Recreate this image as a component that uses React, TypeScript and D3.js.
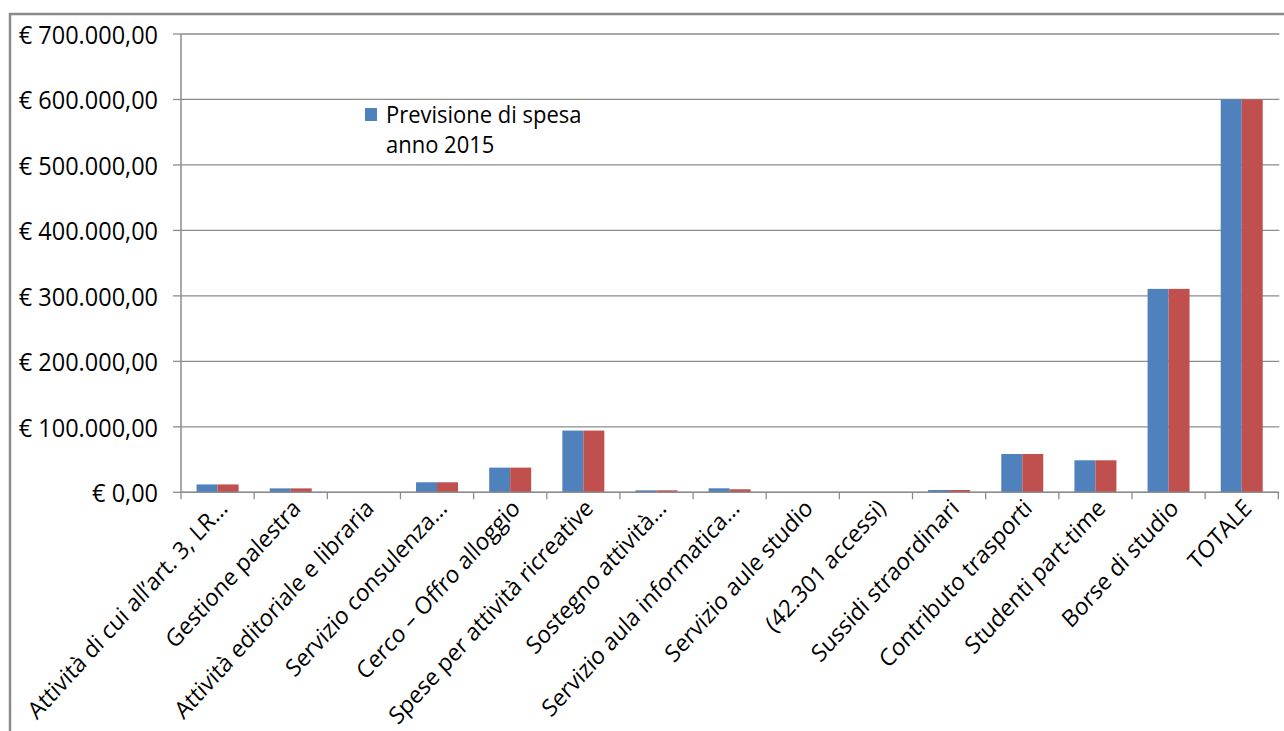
import React from "react";
import * as d3 from "d3";

// Spending forecast per service (euro)
const categories: string[] = [
  "Attività di cui all’art. 3, LR…",
  "Gestione palestra",
  "Attività editoriale e libraria",
  "Servizio consulenza…",
  "Cerco – Offro alloggio",
  "Spese per attività ricreative",
  "Sostegno attività…",
  "Servizio aula informatica…",
  "Servizio aule studio",
  "(42.301 accessi)",
  "Sussidi straordinari",
  "Contributo trasporti",
  "Studenti part-time",
  "Borse di studio",
  "TOTALE",
];

const previsione2015: number[] = [
  12000, 6000, 0, 15300, 37700, 94300, 3000, 6100, 0, 0, 3500, 58500, 48900, 310700, 600000,
];
const secondaSerie: number[] = [
  12000, 6000, 0, 15300, 37700, 94300, 3000, 4600, 0, 0, 3500, 58500, 48900, 310700, 600000,
];

const seriesColors: string[] = ["#4f81bd", "#c0504d"];
const yTicks: number[] = [0, 100000, 200000, 300000, 400000, 500000, 600000, 700000];

const W = 1284;
const H = 731;
const FONT = "'Open Sans', 'Noto Sans', sans-serif";

const itLocale = d3.formatLocale({
  decimal: ",",
  thousands: ".",
  grouping: [3],
  currency: ["€ ", ""],
});
const fmt = itLocale.format("$,.2f");

export default function App() {
  const left = 181;
  const right = 1278.3;
  const top = 34;
  const bottom = 492.3;

  const x = d3.scaleBand<string>().domain(categories).range([left, right]).padding(0);
  const y = d3.scaleLinear().domain([0, 700000]).range([bottom, top]);

  const groupFrac = 0.574;
  const series = [previsione2015, secondaSerie];
  const inner = d3
    .scaleBand<number>()
    .domain(series.map((_, i) => i))
    .range([0, x.bandwidth() * groupFrac])
    .padding(0);
  const groupOffset = (x.bandwidth() * (1 - groupFrac)) / 2;

  const tickXs = [...categories.map((c) => x(c)!), right];
  const gridStroke = "#8c8c8c";

  return (
    <svg
      width={W}
      height={H}
      style={{ position: "absolute", left: 0, top: 0, background: "#fff" }}
      fontFamily={FONT}
    >
      <rect x={0} y={0} width={W} height={H} fill="#fff" />
      {/* outer chart frame */}
      <path d={`M10,${H + 5} V14 H${W + 5}`} fill="none" stroke="#8a8a8a" strokeWidth={2.5} />

      {/* horizontal gridlines, y ticks and labels */}
      {yTicks.map((t) => (
        <g key={t}>
          <line x1={left} x2={right + 1} y1={y(t)} y2={y(t)} stroke={gridStroke} strokeWidth={1.3} />
          <line x1={left - 8} x2={left} y1={y(t)} y2={y(t)} stroke={gridStroke} strokeWidth={1.3} />
          <text
            transform={`translate(158,${y(t)}) scale(1,1.08)`}
            textAnchor="end"
            dominantBaseline="central"
            fontSize={23.5}
            fill="#000"
          >
            {fmt(t)}
          </text>
        </g>
      ))}

      {/* value axis line */}
      <line x1={left} x2={left} y1={top} y2={bottom} stroke={gridStroke} strokeWidth={1.5} />

      {/* bars */}
      {series.map((vals, si) =>
        vals.map((v, i) => {
          const x0 = x(categories[i])! + groupOffset + inner(si)!;
          return (
            <rect
              key={`${si}-${i}`}
              x={x0}
              y={y(v)}
              width={inner.bandwidth()}
              height={bottom - y(v)}
              fill={seriesColors[si]}
            />
          );
        })
      )}

      {/* category axis */}
      <line x1={left} x2={right} y1={bottom} y2={bottom} stroke={gridStroke} strokeWidth={1.5} />
      {tickXs.map((tx, i) => (
        <line key={i} x1={tx} x2={tx} y1={bottom} y2={bottom + 7} stroke={gridStroke} strokeWidth={1.3} />
      ))}
      {categories.map((c) => {
        const cx = x(c)! + x.bandwidth() / 2;
        const ay = bottom + 5;
        return (
          <text
            key={c}
            transform={`translate(${cx},${ay}) scale(1,1.1) rotate(-45)`}
            textAnchor="end"
            dy="0.72em"
            fontSize={22}
            fill="#000"
          >
            {c}
          </text>
        );
      })}

      {/* legend */}
      <rect x={365} y={108} width={12} height={13} fill={seriesColors[0]} />
      <text transform="translate(386,123) scale(1,1.08)" fontSize={22} fill="#000">
        Previsione di spesa
      </text>
      <text transform="translate(386,153) scale(1,1.08)" fontSize={22} fill="#000">
        anno 2015
      </text>
    </svg>
  );
}
